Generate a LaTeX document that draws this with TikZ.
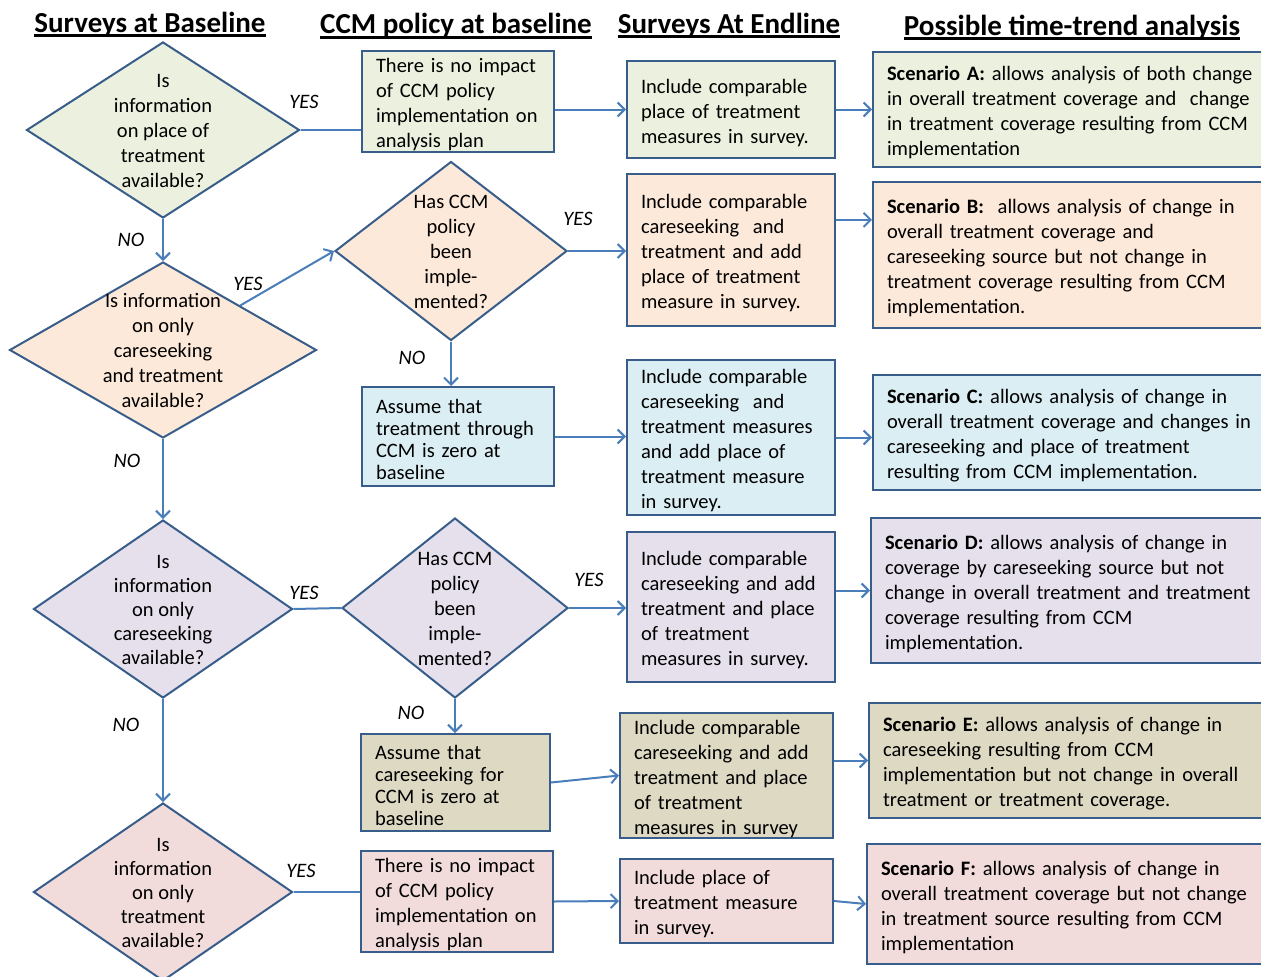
\documentclass[tikz,border=0pt]{standalone}
\usepackage{fontspec}
\setmainfont{Carlito}
\usetikzlibrary{shapes.geometric, arrows.meta}
\definecolor{edge}{HTML}{385D8A}
\definecolor{arrow}{HTML}{4A7EBB}
\definecolor{cgreen}{HTML}{EBF1DE}
\definecolor{cpeach}{HTML}{FDE9D9}
\definecolor{cblue}{HTML}{DBEEF4}
\definecolor{clilac}{HTML}{E5E0EC}
\definecolor{ckhaki}{HTML}{DDD9C3}
\definecolor{cpink}{HTML}{F2DCDB}
% text of a diamond, kept out of the shape size
\newcommand{\qtext}[1]{\makebox[0pt]{\smash{\raisebox{-8pt}{\begin{tabular}{@{}c@{}}#1\end{tabular}}}}}

\begin{document}
\begin{tikzpicture}[x=1pt, y=-1pt,
	font=\fontsize{20.5}{25}\selectfont,
	tight/.style={font=\fontsize{20.5}{#1}\selectfont},
	ask/.style={diamond, draw=edge, line width=2pt, inner sep=0pt},
	box/.style={rectangle, draw=edge, line width=2pt, inner xsep=14pt, inner ysep=0pt, text height=21pt, align=left},
	head/.style={font=\fontsize{29}{32}\selectfont\bfseries, anchor=base, inner sep=0pt},
	ans/.style={font=\fontsize{20.5}{25}\selectfont\itshape},
	link/.style={draw=arrow, line width=2pt},
	>={Straight Barb[length=7pt, width=14pt]}]
	\useasboundingbox (0,0) rectangle (1261,977);
	% headings
	\node[head] (h1) at (150,32) {Surveys at Baseline};
	\node[head] (h2) at (456,34) {CCM policy at baseline\ };
	\node[head] (h3) at (729,33) {Surveys At Endline};
	\node[head] (h4) at (1072,35) {Possible time-trend analysis};
	\foreach \h in {h1,h2,h3,h4}
		\draw[line width=2.5pt] ([yshift=-3.5pt]\h.base west) -- ([yshift=-3.5pt]\h.base east);
	% baseline questions
	\node[ask, fill=cgreen, minimum width=273pt, minimum height=176pt] (d1) at (163,130) {\qtext{Is\\information\\on place of\\treatment\\available?}};
	\node[ask, fill=cpeach, minimum width=307pt, minimum height=176pt] (d2) at (163,350) {\qtext{Is information\\on only\\careseeking\\and treatment\\available?}};
	\node[ask, tight=24, fill=clilac, minimum width=259pt, minimum height=178pt] (d3) at (163,609) {\qtext{Is\\information\\on only\\careseeking\\available?}};
	\node[ask, tight=24, fill=cpink, minimum width=259pt, minimum height=178pt] (d4) at (163,892) {\qtext{Is\\information\\on only\\treatment\\available?}};
	% CCM policy
	\node[box, fill=cgreen, text width=164pt, minimum height=101pt] (b1) at (458,101.5) {There is no impact\\of CCM policy\\implementation on\\analysis plan};
	\node[ask, fill=cpeach, minimum width=232pt, minimum height=179pt] (d5) at (451,251) {\qtext{Has CCM\\policy\\been\\imple-\\mented?}};
	\node[box, tight=22, fill=cblue, text width=164pt, minimum height=99pt] (b2) at (458,436.5) {Assume that\\treatment through\\CCM is zero at\\baseline};
	\node[ask, fill=clilac, minimum width=226pt, minimum height=180pt] (d6) at (455,608) {\qtext{Has CCM\\policy\\been\\imple-\\mented?}};
	\node[box, tight=22, fill=ckhaki, text width=161pt, minimum height=97pt] (b3) at (455.5,782.5) {Assume that\\careseeking for\\CCM is zero at\\baseline};
	\node[box, fill=cpink, text width=164pt, minimum height=101pt] (b4) at (457,901.5) {There is no impact\\of CCM policy\\implementation on\\analysis plan};
	% endline surveys
	\node[box, fill=cgreen, text width=180pt, minimum height=97pt] (e1) at (731,109.5) {Include comparable\\place of treatment\\measures in survey.};
	\node[box, fill=cpeach, text width=180pt, minimum height=152pt] (e2) at (731,250) {Include comparable\\careseeking\ \ and\\treatment and add\\place of treatment\\measure in survey.};
	\node[box, fill=cblue, text width=180pt, minimum height=155pt] (e3) at (731,437.5) {Include comparable\\careseeking\ \ and\\treatment measures\\and add place of\\treatment measure\\in survey.};
	\node[box, fill=clilac, text width=180pt, minimum height=150pt] (e4) at (731,607) {Include comparable\\careseeking and add\\treatment and place\\of treatment\\measures in survey.};
	\node[box, fill=ckhaki, text width=185pt, minimum height=125pt] (e5) at (726.5,775.5) {Include comparable\\careseeking and add\\treatment and place\\of treatment\\measures in survey};
	\node[box, fill=cpink, text width=185pt, minimum height=84pt] (e6) at (726.5,901) {Include place of\\treatment measure\\in survey.};
	% time-trend scenarios
	\node[box, fill=cgreen, text width=379pt, minimum height=115pt] (s1) at (1076.5,109.5) {\textbf{Scenario A:} allows analysis of both change\\in overall treatment coverage and\ \ change\\in treatment coverage resulting from CCM\\implementation};
	\node[box, fill=cpeach, text width=379pt, minimum height=146pt] (s2) at (1076.5,255) {\textbf{Scenario B:}\ \ allows analysis of change in\\overall treatment coverage and\\careseeking source but not change in\\treatment coverage resulting from CCM\\implementation.};
	\node[box, fill=cblue, text width=379pt, minimum height=115pt] (s3) at (1076.5,432.5) {\textbf{Scenario C:} allows analysis of change in\\overall treatment coverage and changes in\\careseeking and place of treatment\\resulting from CCM implementation.};
	\node[box, fill=clilac, text width=381pt, minimum height=145pt] (s4) at (1075.5,590.5) {\textbf{Scenario D:} allows analysis of change in\\coverage by careseeking source but not\\change in overall treatment and treatment\\coverage resulting from CCM\\implementation.};
	\node[box, fill=ckhaki, text width=383pt, minimum height=115pt] (s5) at (1074.5,760.5) {\textbf{Scenario E:} allows analysis of change in\\careseeking resulting from CCM\\implementation but not change in overall\\treatment or treatment coverage.};
	\node[box, fill=cpink, text width=385pt, minimum height=120pt] (s6) at (1073.5,904) {\textbf{Scenario F:} allows analysis of change in\\overall treatment coverage but not change\\in treatment source resulting from CCM\\implementation};
	% answers
	\node[ans] (yes1) at (304,102) {YES};
	\node[ans] (no1) at (131,240) {NO};
	\node[ans] (yes2) at (248,284) {YES};
	\node[ans] (yes3) at (578,219) {YES};
	\node[ans] (no2) at (412,358) {NO};
	\node[ans] (no3) at (127,461) {NO};
	\node[ans] (yes4) at (304,593) {YES};
	\node[ans] (yes5) at (589,580) {YES};
	\node[ans] (no4) at (411,713) {NO};
	\node[ans] (no5) at (126,725) {NO};
	\node[ans] (yes6) at (301,871) {YES};
	% connectors
	\draw[link] (d1.east) -- (d1.east -| b1.west);
	\draw[link, ->] (e1.west -| b1.east) -- (e1.west);
	\draw[link, ->] (e1.east) -- (s1.west);
	\draw[link, ->] (d1.south) -- (d2.north);
	\draw[link, ->] (d2.north east) -- (d5.west);
	\draw[link, ->] (d5.east) -- (d5.east -| e2.west);
	\draw[link, ->] (e2.16) -- (e2.16 -| s2.west);
	\draw[link, ->] (d5.south) -- (d5.south |- b2.north);
	\draw[link, ->] (b2.east) -- (b2.east -| e3.west);
	\draw[link, ->] (e3.east) -- (e3.east -| s3.west);
	\draw[link, ->] (d2.south) -- (d3.north);
	\draw[link] (d3.east) -- (d6.west);
	\draw[link, ->] (d6.east) -- (d6.east -| e4.west);
	\draw[link, ->] (s4.west -| e4.east) -- (s4.west);
	\draw[link, ->] (d6.south) -- (d6.south |- b3.north);
	\draw[link, ->] (b3.east) -- (e5.west);
	\draw[link, ->] (s5.west -| e5.east) -- (s5.west);
	\draw[link, ->] (d3.south) -- (d4.north);
	\draw[link] (d4.east) -- (d4.east -| b4.west);
	\draw[link, ->] (b4.east) -- (e6.west);
	\draw[link, ->] (e6.east) -- (s6.west);
\end{tikzpicture}
\end{document}
